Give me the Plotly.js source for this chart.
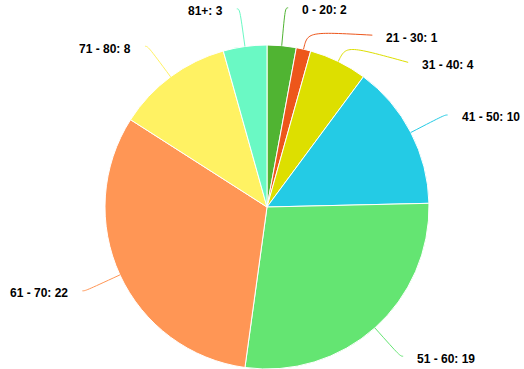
<!DOCTYPE html>
<html><head><meta charset="utf-8">
<script src="https://cdn.plot.ly/plotly-3.0.1.min.js"></script>
<style>html,body{margin:0;padding:0;background:#fff}</style>
</head><body><div id="chart" style="width:524px;height:369px"></div>
<script>
const categories = ["0 - 20", "21 - 30", "31 - 40", "41 - 50", "51 - 60", "61 - 70", "71 - 80", "81+"];
const counts = [2, 1, 4, 10, 19, 22, 8, 3];
const colors = ["#50B432", "#ED561B", "#DDDF00", "#24CBE5", "#64E572", "#FF9655", "#FFF263", "#6AF9C4"];
// label collision nudges (px, downward)
const labelShift = [0, 23, 35, 0, 0, 0, 0, 0];

const W = 524, H = 369;
const cx = 267, cy = 207, r = 162, R = 200;
const total = counts.reduce((a, b) => a + b, 0);
const px = x => x / W, py = y => 1 - y / H;

const shapes = [], annotations = [];
let cum = 0;
counts.forEach((v, i) => {
  const a = (cum + v / 2) / total * 2 * Math.PI; cum += v;
  const s = Math.sin(a), c = Math.cos(a);
  const right = s >= 0;
  const Ax = cx + r * s, Ay = cy - r * c;
  const ly = cy - R * c + labelShift[i];
  const dy = ly - cy;
  const circ = Math.sqrt(Math.max(R * R - dy * dy, 0));
  const off = Math.max(circ, Math.abs(R * s)) + 3;
  const Ex = right ? cx + off : cx - off;
  // corner: radial point at label y, or r+18 if that lies inside
  let t = Math.abs(c) > 1e-6 ? (cy - ly) / c : r + 18;
  if (!(t > r + 18)) t = r + 18;
  const Cx = cx + t * s, Cy = cy - t * c;
  shapes.push({
    type: "path", xref: "paper", yref: "paper",
    path: `M ${px(Ax)},${py(Ay)} C ${px(Cx)},${py(Cy)} ${px(Cx)},${py(Cy)} ${px(Ex)},${py(ly)}`,
    line: {color: colors[i], width: 1}
  });
  annotations.push({
    xref: "paper", yref: "paper", showarrow: false,
    x: px(right ? Ex + 12 : Ex - 12), y: py(ly + 2.5),
    xanchor: right ? "left" : "right", yanchor: "middle",
    text: categories[i] + ": " + counts[i],
    font: {family: "Liberation Sans, Arial, sans-serif", size: 12, color: "#000", weight: "bold"}
  });
});

const trace = {
  type: "pie", labels: categories, values: counts,
  marker: {colors: colors, line: {color: "#ffffff", width: 1}},
  sort: false, direction: "clockwise", rotation: 0,
  textinfo: "none", hoverinfo: "label+value",
  domain: {x: [(cx - r) / W, (cx + r) / W], y: [(H - cy - r) / H, (H - cy + r) / H]}
};

Plotly.newPlot("chart", [trace], {
  width: W, height: H, margin: {l: 0, r: 0, t: 0, b: 0},
  showlegend: false, paper_bgcolor: "#fff",
  shapes: shapes, annotations: annotations
}, {displayModeBar: false, staticPlot: true});
</script></body></html>
